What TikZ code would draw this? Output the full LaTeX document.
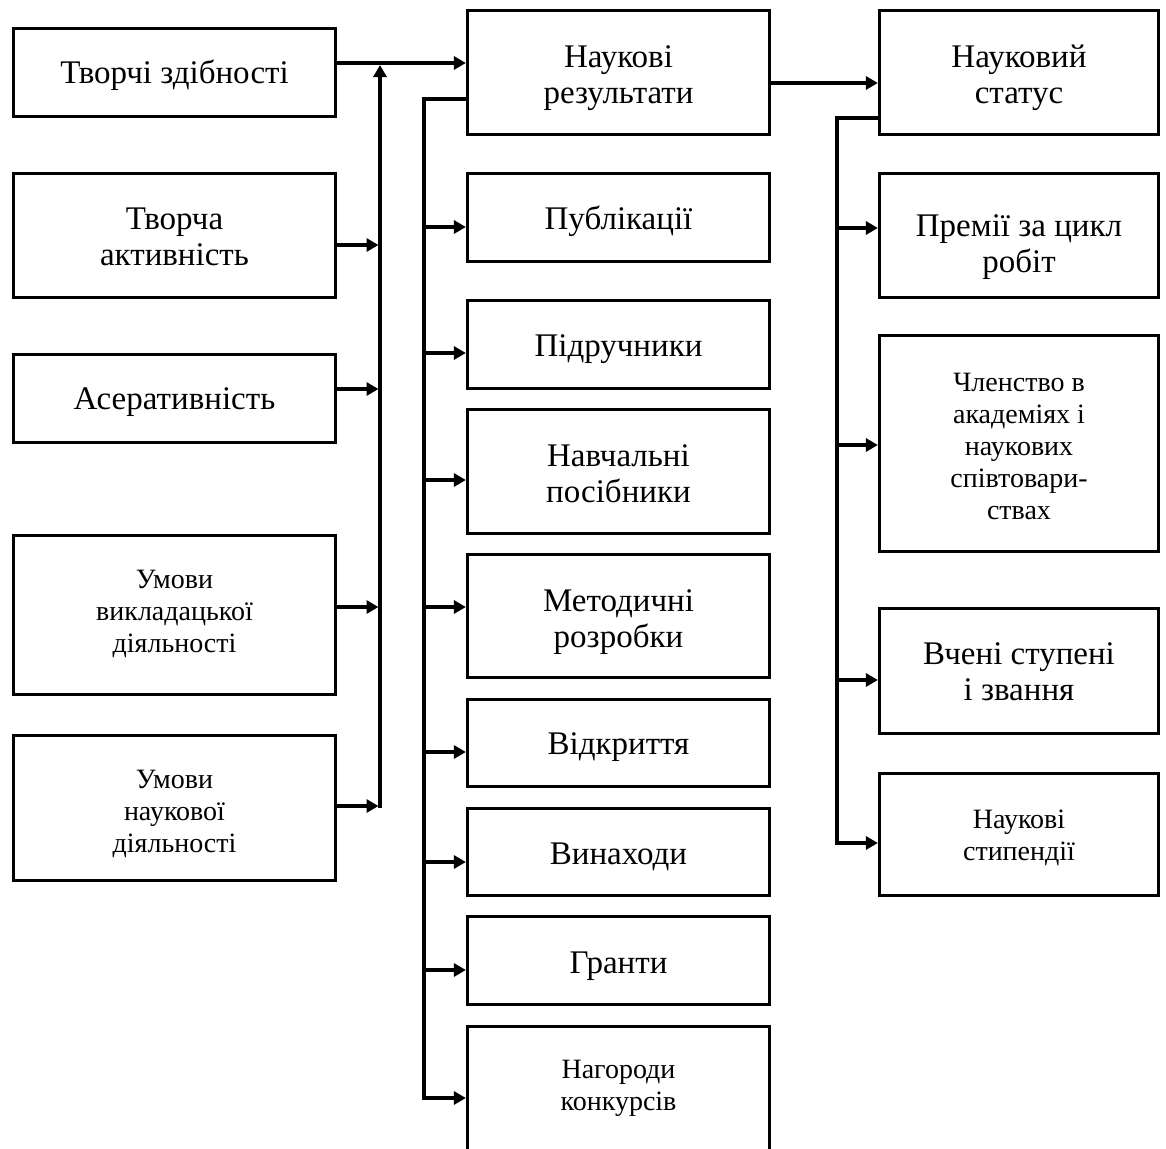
\documentclass[tikz,border=0pt]{standalone}
\usepackage{fontspec}
\setmainfont{Liberation Serif}
\usetikzlibrary{arrows.meta}
% #1: height of the strut on the first line (sets vertical placement), #2: text
\newcommand\BT[2]{\rule{0pt}{#1pt}#2\rule[-9pt]{0pt}{9pt}}
\newcommand\ST[2]{\rule{0pt}{#1pt}#2\rule[-8pt]{0pt}{8pt}}
\begin{document}
\begin{tikzpicture}[x=1pt,y=-1pt,
  box/.style={draw, line width=3.2pt, inner sep=0pt, align=center},
  bigtxt/.style={font=\fontsize{33}{36}\selectfont},
  smalltxt/.style={font=\fontsize{28}{32}\selectfont},
  conn/.style={line width=3.2pt},
  arr/.style={line width=3.2pt, -{Triangle[length=12pt,width=13pt]}}]
\useasboundingbox (0,0) rectangle (1166,1148);
\clip (0,0) rectangle (1166,1148);
% left column
\node[box,bigtxt,minimum width=322pt,minimum height=88pt] (L1) at (174.5,72.5) {\BT{30.7}{Творчі здібності}};
\node[box,bigtxt,minimum width=322pt,minimum height=124pt] (L2) at (174.5,235.5) {\BT{32.7}{Творча\\активність}};
\node[box,bigtxt,minimum width=322pt,minimum height=88pt] (L3) at (174.5,398.5) {\BT{31.7}{Асеративність}};
\node[box,smalltxt,minimum width=322pt,minimum height=159pt] (L4) at (174.5,615) {\ST{18.5}{Умови\\викладацької\\діяльності}};
\node[box,smalltxt,minimum width=322pt,minimum height=145pt] (L5) at (174.5,808) {\ST{32.4}{Умови\\наукової\\діяльності}};
% middle column
\node[box,bigtxt,minimum width=302pt,minimum height=124pt] (M1) at (618.5,72.5) {\BT{34.7}{Наукові\\результати}};
\node[box,bigtxt,minimum width=302pt,minimum height=88pt] (M2) at (618.5,217.5) {\BT{33.7}{Публікації}};
\node[box,bigtxt,minimum width=302pt,minimum height=88pt] (M3) at (618.5,344.5) {\BT{33.7}{Підручники}};
\node[box,bigtxt,minimum width=302pt,minimum height=124pt] (M4) at (618.5,471.5) {\BT{35.7}{Навчальні\\посібники}};
\node[box,bigtxt,minimum width=302pt,minimum height=123pt] (M5) at (618.5,616) {\BT{35.7}{Методичні\\розробки}};
\node[box,bigtxt,minimum width=302pt,minimum height=87pt] (M6) at (618.5,743) {\BT{32.7}{Відкриття}};
\node[box,bigtxt,minimum width=302pt,minimum height=87pt] (M7) at (618.5,852) {\BT{33.7}{Винаходи}};
\node[box,bigtxt,minimum width=302pt,minimum height=88pt] (M8) at (618.5,960.5) {\BT{34.7}{Гранти}};
\node[box,smalltxt,minimum width=302pt,minimum height=124pt] (M9) at (618.5,1088.5) {\ST{19.4}{Нагороди\\конкурсів}};
% right column
\node[box,bigtxt,minimum width=279pt,minimum height=124pt] (R1) at (1019,72.5) {\BT{35.7}{Науковий\\статус}};
\node[box,bigtxt,minimum width=279pt,minimum height=124pt] (R2) at (1019,235.5) {\BT{46.7}{Премії за цикл\\робіт}};
\node[box,smalltxt,minimum width=279pt,minimum height=216pt] (R3) at (1019,443.5) {\ST{31.4}{Членство в\\академіях і\\наукових\\співтовари-\\ствах}};
\node[box,bigtxt,minimum width=279pt,minimum height=125pt] (R4) at (1019,671) {\BT{31.7}{Вчені ступені\\і звання}};
\node[box,smalltxt,minimum width=279pt,minimum height=122pt] (R5) at (1019,834.5) {\ST{28.4}{Наукові\\стипендії}};
% left collector
\coordinate (t1) at (0,63);
\coordinate (vlTop) at (380,65);
\coordinate (vlBot) at (380,807.6);
\draw[arr] (L1.east |- t1) -- (M1.west |- t1);
\draw[arr] (vlBot) -- (vlTop);
\coordinate (a2) at (378.5,245);
\coordinate (a3) at (378.5,389);
\coordinate (a4) at (378.5,607);
\coordinate (a5) at (378.5,806);
\draw[arr] (L2.east |- a2) -- (a2);
\draw[arr] (L3.east |- a3) -- (a3);
\draw[arr] (L4.east |- a4) -- (a4);
\draw[arr] (L5.east |- a5) -- (a5);
% middle branch
\coordinate (mb) at (424,99);
\coordinate (mbBot) at (424,1099.6);
\draw[conn] (M1.west |- mb) -- (mb) -- (mbBot);
\coordinate (p2) at (424,227);
\coordinate (p3) at (424,353);
\coordinate (p4) at (424,480);
\coordinate (p5) at (424,607);
\coordinate (p6) at (424,752);
\coordinate (p7) at (424,862);
\coordinate (p8) at (424,970);
\coordinate (p9) at (424,1098);
\draw[arr] (p2) -- (M2.west |- p2);
\draw[arr] (p3) -- (M3.west |- p3);
\draw[arr] (p4) -- (M4.west |- p4);
\draw[arr] (p5) -- (M5.west |- p5);
\draw[arr] (p6) -- (M6.west |- p6);
\draw[arr] (p7) -- (M7.west |- p7);
\draw[arr] (p8) -- (M8.west |- p8);
\draw[arr] (p9) -- (M9.west |- p9);
% right branch
\coordinate (r1) at (0,83);
\draw[arr] (M1.east |- r1) -- (R1.west |- r1);
\coordinate (rb) at (837,118);
\coordinate (rbBot) at (837,844.6);
\draw[conn] (R1.west |- rb) -- (rb) -- (rbBot);
\coordinate (q2) at (837,228);
\coordinate (q3) at (837,445);
\coordinate (q4) at (837,680);
\coordinate (q5) at (837,843);
\draw[arr] (q2) -- (R2.west |- q2);
\draw[arr] (q3) -- (R3.west |- q3);
\draw[arr] (q4) -- (R4.west |- q4);
\draw[arr] (q5) -- (R5.west |- q5);
\end{tikzpicture}
\end{document}
